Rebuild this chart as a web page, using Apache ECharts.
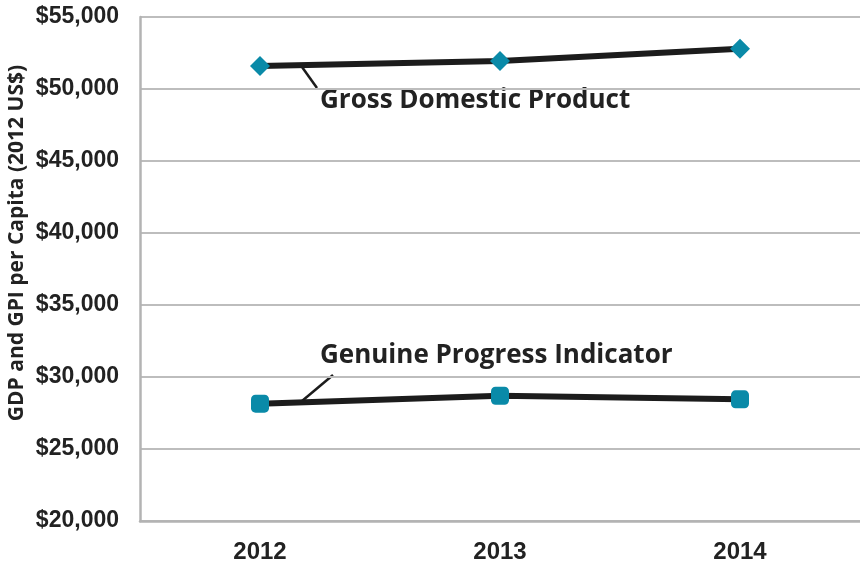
<!DOCTYPE html>
<html lang="en">
<head>
    <meta charset="UTF-8">
    <title>GDP vs GPI</title>
    <style>
        html, body { margin: 0; padding: 0; background: white; }
        #fig { width: 860px; height: 566px; }
    </style>
    <script src="https://cdn.jsdelivr.net/npm/echarts@6/dist/echarts.min.js"></script>
</head>
<body>
<div id="fig"></div>
<script>
    // data
    const years = ['2012', '2013', '2014'];
    const gdp = [51600, 51950, 52800];
    const gpi = [28150, 28700, 28450];

    const fig = echarts.init(document.getElementById('fig'), null, {renderer: 'canvas'});

    const option = {
        animation: false,
        grid: {left: 140, right: 0, top: 17, bottom: 45, containLabel: false, outerBoundsMode: 'none'},
        xAxis: {
            type: 'category',
            data: years,
            boundaryGap: true,
            axisLine: {lineStyle: {color: '#b3b3b3', width: 2.5}},
            axisTick: {show: false},
            axisLabel: {
                margin: 19, color: '#222', fontSize: 24, fontWeight: 'bold',
                fontFamily: 'Liberation Sans'
            }
        },
        yAxis: {
            type: 'value',
            min: 20000, max: 55000, interval: 5000,
            axisLine: {show: true, lineStyle: {color: '#b3b3b3', width: 2.5}},
            axisTick: {show: false},
            splitLine: {lineStyle: {color: '#bdbdbd', width: 2}},
            axisLabel: {
                margin: 21, color: '#222', fontSize: 23, fontWeight: 'bold',
                fontFamily: 'Liberation Sans',
                formatter: v => '$' + v.toLocaleString('en-US')
            }
        },
        series: [
            {
                name: 'Gross Domestic Product',
                type: 'line',
                data: gdp,
                symbol: 'diamond',
                symbolSize: 20,
                lineStyle: {color: '#1c1c1c', width: 6},
                itemStyle: {color: '#0a8aa8'},
                z: 3
            },
            {
                name: 'Genuine Progress Indicator',
                type: 'line',
                data: gpi,
                symbol: 'roundRect',
                symbolSize: 18,
                lineStyle: {color: '#1c1c1c', width: 6},
                itemStyle: {color: '#0a8aa8'},
                z: 3
            }
        ],
        graphic: [
            {
                // y axis title
                type: 'text', x: 17, y: 243, rotation: Math.PI / 2,
                style: {
                    text: 'GDP and GPI per Capita (2012 US$)', fill: '#222', fontSize: 21,
                    fontWeight: 'bold', fontFamily: 'Open Sans',
                    align: 'center', verticalAlign: 'middle'
                }
            },
            {
                type: 'line', shape: {x1: 302, y1: 67, x2: 317, y2: 88},
                style: {stroke: '#1c1c1c', lineWidth: 2.5}
            },
            {
                type: 'text', x: 320, y: 101,
                style: {
                    text: 'Gross Domestic Product', fill: '#222', fontSize: 26,
                    fontWeight: 'bold', fontFamily: 'Open Sans', verticalAlign: 'middle'
                }
            },
            {
                type: 'line', shape: {x1: 302, y1: 401, x2: 333, y2: 375},
                style: {stroke: '#1c1c1c', lineWidth: 2.5}
            },
            {
                type: 'text', x: 320, y: 356,
                style: {
                    text: 'Genuine Progress Indicator', fill: '#222', fontSize: 26,
                    fontWeight: 'bold', fontFamily: 'Open Sans', verticalAlign: 'middle'
                }
            }
        ]
    };
    fig.setOption(option);
</script>
</body>
</html>
